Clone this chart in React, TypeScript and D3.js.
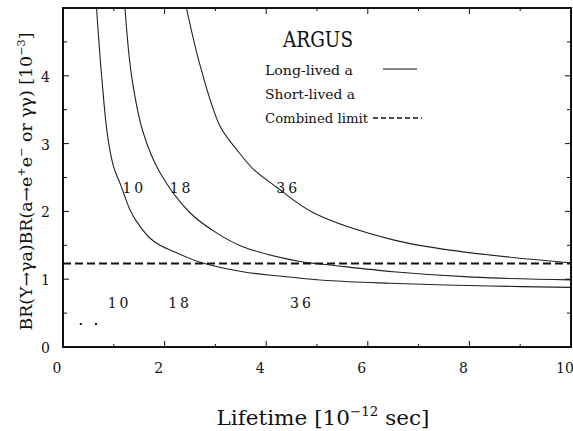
import React from 'react';
import * as d3 from 'd3';

// long-lived a, three masses (MeV)
const massLabels = ['10', '18', '36'];
const life10 = [0.66, 0.76, 0.88, 1.0, 1.14, 1.32, 1.45, 1.72, 1.91, 2.2, 2.7, 3.54, 4.2, 5.2, 6.44, 8.4, 10];
const br10 = [5.0, 4.0, 3.1, 2.65, 2.38, 2.02, 1.85, 1.6, 1.5, 1.4, 1.25, 1.11, 1.05, 0.98, 0.94, 0.9, 0.88];
const life18 = [1.22, 1.35, 1.58, 1.91, 2.5, 3.03, 3.54, 4.67, 5.26, 6.5, 8.07, 10];
const br18 = [5.0, 4.0, 3.16, 2.57, 1.98, 1.68, 1.48, 1.26, 1.21, 1.11, 1.03, 0.99];
const life36 = [2.43, 2.7, 3.09, 3.42, 3.75, 4.2, 4.93, 6.5, 7.81, 10];
const br36 = [5.0, 4.15, 3.26, 2.91, 2.62, 2.36, 1.98, 1.58, 1.41, 1.24];
const combinedLimit = 1.23;
// short-lived remnants (dots near bottom left)
const shortLife = [0.35, 0.65];
const shortBr = [0.34, 0.34];

const xTicks = [0, 2, 4, 6, 8, 10];
const yTicks = [0, 1, 2, 3, 4];

const W = 573;
const H = 431;
const M = { left: 63, right: 2, top: 8, bottom: 84 };

const App = () => {
  const x = d3.scaleLinear().domain([0, 10]).range([M.left, W - M.right]);
  const y = d3.scaleLinear().domain([0, 5]).range([H - M.bottom, M.top]);

  const line = d3.line<[number, number]>()
    .x(d => x(d[0]))
    .y(d => y(d[1]))
    .curve(d3.curveCatmullRom.alpha(0.5));

  const curves = [
    d3.zip(life10, br10) as [number, number][],
    d3.zip(life18, br18) as [number, number][],
    d3.zip(life36, br36) as [number, number][],
  ];

  const x0 = x(0), x1 = x(10), y0 = y(0), y1 = y(5);
  const xMinor = d3.range(1, 10, 2);
  const yMinor = d3.range(0.5, 5, 1);
  const font = '"DejaVu Serif", serif';

  const upperLab = [
    { t: massLabels[0], v: 1.17, b: 2.27 },
    { t: massLabels[1], v: 2.1, b: 2.27 },
    { t: massLabels[2], v: 4.2, b: 2.27 },
  ];
  const lowerLab = [
    { t: massLabels[0], v: 0.88, b: 0.57 },
    { t: massLabels[1], v: 2.07, b: 0.57 },
    { t: massLabels[2], v: 4.47, b: 0.57 },
  ];

  return (
    <svg width={W} height={H} style={{ position: 'absolute', left: 0, top: 0, background: '#fff', fontFamily: font }}>
      <defs>
        <clipPath id="plot">
          <rect x={x0} y={y1} width={x1 - x0} height={y0 - y1} />
        </clipPath>
      </defs>

      <g clipPath="url(#plot)">
        {curves.map((c, i) => (
          <path key={i} d={line(c) || ''} fill="none" stroke="#222" strokeWidth={1.1} />
        ))}
        <line x1={x0} x2={x1} y1={y(combinedLimit)} y2={y(combinedLimit)}
          stroke="#111" strokeWidth={2} strokeDasharray="8,4" />
        {shortLife.map((v, i) => (
          <rect key={i} x={x(v) - 1} y={y(shortBr[i]) - 1} width={2} height={2} fill="#111" />
        ))}
      </g>

      {/* ticks on all four sides, pointing inwards */}
      <g stroke="#111" strokeWidth={1}>
        {xTicks.map(t => (
          <g key={'xt' + t}>
            <line x1={x(t)} x2={x(t)} y1={y0} y2={y0 - 6} />
            <line x1={x(t)} x2={x(t)} y1={y1} y2={y1 + 6} />
          </g>
        ))}
        {xMinor.map(t => (
          <g key={'xm' + t}>
            <line x1={x(t)} x2={x(t)} y1={y0} y2={y0 - 3} />
            <line x1={x(t)} x2={x(t)} y1={y1} y2={y1 + 3} />
          </g>
        ))}
        {yTicks.map(t => (
          <g key={'yt' + t}>
            <line x1={x0} x2={x0 + 6} y1={y(t)} y2={y(t)} />
            <line x1={x1} x2={x1 - 6} y1={y(t)} y2={y(t)} />
          </g>
        ))}
        {yMinor.map(t => (
          <g key={'ym' + t}>
            <line x1={x0} x2={x0 + 4} y1={y(t)} y2={y(t)} />
            <line x1={x1} x2={x1 - 4} y1={y(t)} y2={y(t)} />
          </g>
        ))}
      </g>

      <rect x={x0} y={y1} width={x1 - x0} height={y0 - y1} fill="none" stroke="#111" strokeWidth={2} />

      {xTicks.map(t => (
        <text key={'xl' + t} x={x(t) - 6} y={y0 + 26} fontSize={14} textAnchor="middle" fill="#111">{t}</text>
      ))}
      {yTicks.map(t => (
        <text key={'yl' + t} x={50} y={y(t) + 6} fontSize={14} textAnchor="end" fill="#111">{t}</text>
      ))}

      {upperLab.concat(lowerLab).map((l, i) => (
        <text key={'ml' + i} x={x(l.v)} y={y(l.b)} fontSize={14} letterSpacing={3} fill="#111">{l.t}</text>
      ))}

      <text x={283} y={47} fontSize={23} fill="#111" textLength={70} lengthAdjust="spacingAndGlyphs">ARGUS</text>

      <g fontSize={12} fill="#111">
        <text x={265} y={75} textLength={88} lengthAdjust="spacingAndGlyphs">Long-lived a</text>
        <text x={265} y={99} textLength={90} lengthAdjust="spacingAndGlyphs">Short-lived a</text>
        <text x={265} y={123} textLength={103} lengthAdjust="spacingAndGlyphs">Combined limit</text>
      </g>
      <line x1={383} x2={417} y1={69} y2={69} stroke="#111" strokeWidth={1.2} />
      <line x1={373} x2={422} y1={118} y2={118} stroke="#111" strokeWidth={1.5} strokeDasharray="5,3" />

      <text x={323} y={425} fontSize={21} textAnchor="middle" fill="#111" textLength={213} lengthAdjust="spacingAndGlyphs">
        Lifetime [10<tspan fontSize={13} dy={-9}>−12</tspan><tspan dy={9}> sec]</tspan>
      </text>

      <text transform={`translate(32,${(y0 + y1) / 2 + 4}) rotate(-90)`} fontSize={17} textAnchor="middle"
        fill="#111" textLength={298} lengthAdjust="spacingAndGlyphs">
        BR(Υ→γa)BR(a→e<tspan fontSize={11} dy={-7}>+</tspan><tspan dy={7}>e</tspan><tspan fontSize={11} dy={-7}>−</tspan><tspan dy={7}> or γγ) [10</tspan><tspan fontSize={11} dy={-7}>−3</tspan><tspan dy={7}>]</tspan>
      </text>
    </svg>
  );
};

export default App;
